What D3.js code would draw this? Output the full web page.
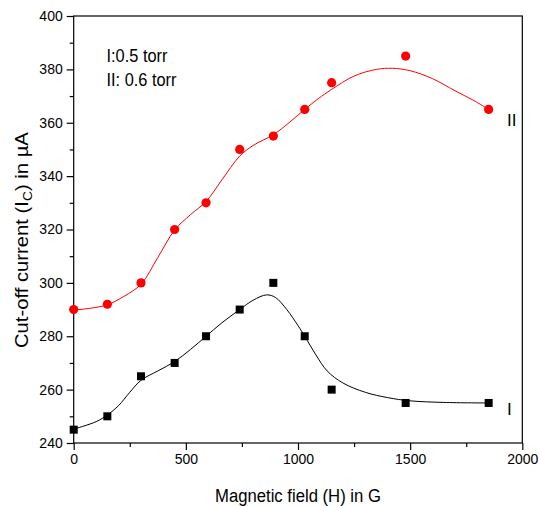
<!DOCTYPE html>
<html>
<head>
<meta charset="utf-8">
<script src="https://cdn.jsdelivr.net/npm/d3@7"></script>
<style>
  body { margin: 0; background: #fff; }
  text { font-family: "Liberation Sans", Arial, sans-serif; fill: #000; }
</style>
</head>
<body>
<div id="chart"></div>
<script>
// measured points
const fieldH = [0, 150, 300, 450, 590, 740, 890, 1030, 1150, 1480, 1850];
const currentI = [245, 250, 265, 270, 280, 290, 300, 280, 260, 255, 255];
const currentII = [290, 292, 300, 320, 330, 350, 355, 365, 375, 385, 365];

// fitted curves
const fitH_I = [0, 100, 150, 200, 250, 300, 375, 450, 520, 590, 660, 740, 800, 860, 900, 950, 1000, 1030, 1080, 1130, 1200, 1300, 1400, 1500, 1650, 1850];
const fitI = [245.2, 248, 250.5, 254, 259, 263.5, 267, 270.5, 275, 280, 285, 290, 293.5, 295.5, 294.5, 290, 284, 280, 273, 267, 262.5, 259, 257, 255.8, 255.2, 255];
const fitH_II = [0, 75, 150, 225, 300, 375, 450, 520, 590, 660, 740, 800, 890, 960, 1030, 1090, 1150, 1250, 1350, 1420, 1500, 1600, 1700, 1780, 1850];
const fitII = [289.8, 290.5, 291.8, 295, 299.5, 309.5, 319.8, 325.5, 330.5, 338.5, 347.5, 351.5, 355.5, 360, 365, 369, 372.5, 377.5, 380, 380.4, 379.5, 376.5, 372, 368.5, 365];

const xMajor = [0, 500, 1000, 1500, 2000];
const xMinor = [250, 750, 1250, 1750];
const yMajor = [240, 260, 280, 300, 320, 340, 360, 380, 400];
const yMinor = [250, 270, 290, 310, 330, 350, 370, 390];

const W = 539, H = 506;
const plotL = 73.7, plotR = 522.3, plotT = 16, plotB = 443;

const svg = d3.select("#chart").append("svg")
  .attr("width", W)
  .attr("height", H);

const x = d3.scaleLinear().domain([0, 2000]).range([plotL, plotR]);
const y = d3.scaleLinear().domain([240, 400]).range([plotB, plotT]);

// axes
const gx = svg.append("g").attr("transform", `translate(0,${plotB})`)
  .call(d3.axisBottom(x).tickValues(xMajor).tickSize(7).tickPadding(4).tickFormat(d3.format("d")));
const gxm = svg.append("g").attr("transform", `translate(0,${plotB})`)
  .call(d3.axisBottom(x).tickValues(xMinor).tickSize(4).tickFormat(""));
const gy = svg.append("g").attr("transform", `translate(${plotL},0)`)
  .call(d3.axisLeft(y).tickValues(yMajor).tickSize(7).tickPadding(4));
const gym = svg.append("g").attr("transform", `translate(${plotL},0)`)
  .call(d3.axisLeft(y).tickValues(yMinor).tickSize(4).tickFormat(""));

[gx, gxm, gy, gym].forEach(g => {
  g.select(".domain").remove();
  g.selectAll("line").attr("stroke", "#000").attr("stroke-width", 1.2);
  g.selectAll("text").attr("fill", "#000").style("font-size", "14px");
});

// frame
svg.append("rect")
  .attr("x", plotL).attr("y", plotT)
  .attr("width", plotR - plotL).attr("height", plotB - plotT)
  .attr("fill", "none").attr("stroke", "#000").attr("stroke-width", 1.2);

// fit lines
const line = d3.line().x(d => x(d[0])).y(d => y(d[1])).curve(d3.curveCatmullRom);

svg.append("path")
  .datum(d3.zip(fitH_I, fitI))
  .attr("d", line)
  .attr("fill", "none").attr("stroke", "#000").attr("stroke-width", 1);

svg.append("path")
  .datum(d3.zip(fitH_II, fitII))
  .attr("d", line)
  .attr("fill", "none").attr("stroke", "#ff0000").attr("stroke-width", 1);

// markers
svg.append("g").selectAll("rect")
  .data(d3.zip(fieldH, currentI))
  .enter().append("rect")
  .attr("x", d => x(d[0]) - 4)
  .attr("y", d => y(d[1]) - 4)
  .attr("width", 8).attr("height", 8)
  .attr("fill", "#000");

svg.append("g").selectAll("circle")
  .data(d3.zip(fieldH, currentII))
  .enter().append("circle")
  .attr("cx", d => x(d[0]))
  .attr("cy", d => y(d[1]))
  .attr("r", 4.6)
  .attr("fill", "#ff0000");

// the original lettering is narrow, squeeze each label to its measured width
function squeeze(t, px, py, rot, target, anchor) {
  const len = t.node().getComputedTextLength();
  const s = target / len;
  const dx = anchor === "middle" ? -len / 2 : 0;
  t.attr("x", dx).attr("y", 0)
    .attr("transform", `translate(${px},${py}) rotate(${rot}) scale(${s},1)`);
}

function label(txt, size) {
  return svg.append("text").style("font-size", size + "px").text(txt);
}

squeeze(label("I:0.5 torr", 18), 106.5, 62, 0, 61);
squeeze(label("II: 0.6 torr", 18), 106.5, 86, 0, 70);
label("II", 17).attr("x", 507).attr("y", 126);
label("I", 17).attr("x", 507).attr("y", 415);

squeeze(label("Magnetic field (H) in G", 19), (plotL + plotR) / 2, 502, 0, 166, "middle");

const yt = svg.append("text").style("font-size", "19px");
yt.append("tspan").text("Cut-off current (I");
yt.append("tspan").attr("dy", 4).style("font-size", "13px").text("C");
yt.append("tspan").attr("dy", -4).text(") in µA");
squeeze(yt, 28, 240, -90, 216, "middle");
</script>
</body>
</html>
